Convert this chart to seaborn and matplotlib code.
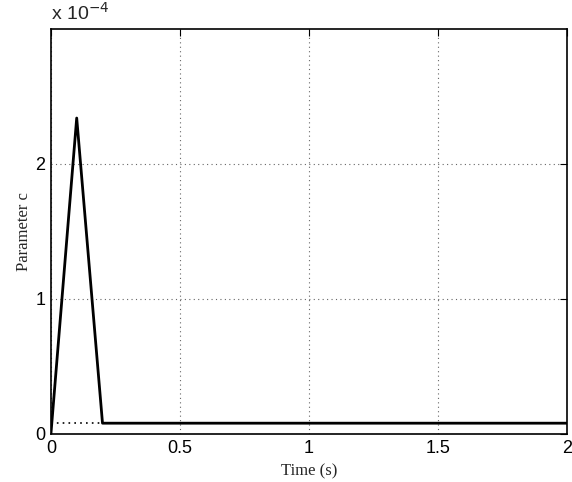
import matplotlib
matplotlib.use("Agg")
import matplotlib.pyplot as plt
import seaborn as sns
import pandas as pd

time_s = [0.0, 0.1, 0.2, 2.0]
param_c = [0.0, 2.34e-4, 0.08e-4, 0.08e-4]
ref_time_s = [0.0, 2.0]
ref_param_c = [0.08e-4, 0.08e-4]
x_ticks = [0, 0.5, 1, 1.5, 2]
x_tick_labels = ["0", "0.5", "1", "1.5", "2"]
y_ticks = [0, 1e-4, 2e-4]
y_tick_labels = ["0", "1", "2"]

sns.set_style("white")
plt.rcParams['font.family'] = ['Liberation Sans', 'DejaVu Sans']

fig = plt.figure(figsize=(5.72, 4.82), dpi=100)
ax = fig.add_axes([0.089, 0.0996, 0.902, 0.8404])

ref_df = pd.DataFrame({"t": ref_time_s, "c": ref_param_c})
sns.lineplot(data=ref_df, x="t", y="c", ax=ax, color="black", linewidth=1.2,
             linestyle=(0, (1, 2.5)), estimator=None, sort=False)
df = pd.DataFrame({"t": time_s, "c": param_c})
sns.lineplot(data=df, x="t", y="c", ax=ax, color="black", linewidth=2.0,
             estimator=None, sort=False)

ax.set_xlim(0, 2)
ax.set_ylim(0, 3e-4)
ax.set_xticks(x_ticks)
ax.set_xticklabels(x_tick_labels)
ax.set_yticks(y_ticks)
ax.set_yticklabels(y_tick_labels)
ax.grid(True, linestyle=(0, (1, 3)), color="#666666", linewidth=0.8)
ax.tick_params(direction="in", length=5, width=0.8, top=True, right=True,
               labelsize=13, colors="black", pad=4)
for s in ax.spines.values():
    s.set_visible(True)
    s.set_color("black")
    s.set_linewidth(1.2)

ax.set_xlabel("Time (s)", family="Liberation Serif", fontsize=12, labelpad=5)
ax.set_ylabel("Parameter c", family="Liberation Serif", fontsize=12, labelpad=2)
ax.text(0.0, 1.012, r"x 10$^{-4}$", transform=ax.transAxes, fontsize=14,
        ha="left", va="bottom")

fig.savefig("out.png", dpi=100)
